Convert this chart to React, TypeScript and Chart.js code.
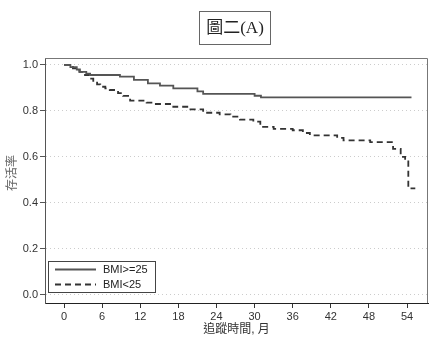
import React, { useEffect, useRef } from "react";
import { Chart, registerables } from "chart.js";

Chart.register(...registerables);

const TITLE = "圖二(A)";
const X_TITLE = "追蹤時間, 月";
const Y_TITLE = "存活率";
const X_TICKS = [0, 6, 12, 18, 24, 30, 36, 42, 48, 54];
const Y_TICKS = [0, 0.2, 0.4, 0.6, 0.8, 1.0];

const LABEL_A = "BMI>=25";
const TIME_A = [0, 1, 2, 2.5, 3.5, 4.1, 8.8, 11, 13.2, 15.1, 17.2, 21, 21.9, 30, 31, 54.7];
const SURV_A = [1.0, 0.99, 0.98, 0.97, 0.962, 0.956, 0.949, 0.935, 0.92, 0.91, 0.898, 0.885, 0.874, 0.866, 0.859, 0.859];

const LABEL_B = "BMI<25";
const TIME_B = [0, 1.4, 2.4, 3.3, 4.0, 4.6, 5.2, 5.7, 6.5, 7.2, 8.5, 9.3, 10.4, 13, 14, 17.2, 19.9, 21.9, 24.5, 26.2, 27.7, 29.8, 30.9, 33, 36, 37.6, 38.7, 43, 44, 48.2, 51.8, 53, 53.7, 54.2, 55.3];
const SURV_B = [1.0, 0.985, 0.97, 0.956, 0.94, 0.927, 0.915, 0.905, 0.898, 0.891, 0.877, 0.865, 0.845, 0.836, 0.83, 0.818, 0.807, 0.792, 0.785, 0.775, 0.762, 0.753, 0.731, 0.722, 0.716, 0.704, 0.694, 0.683, 0.672, 0.664, 0.635, 0.6, 0.58, 0.463, 0.463];

const SANS = '"Liberation Sans", Arial, sans-serif';

const decor = {
  id: "decor",
  afterDraw(chart: any) {
    const ctx = chart.ctx;
    const a = chart.chartArea;
    ctx.save();
    // frame top/right
    ctx.strokeStyle = "#777";
    ctx.lineWidth = 1;
    ctx.beginPath();
    ctx.moveTo(a.left, a.top + 0.5);
    ctx.lineTo(a.right - 0.5, a.top + 0.5);
    ctx.lineTo(a.right - 0.5, a.bottom);
    ctx.stroke();

    // title box
    ctx.strokeStyle = "#666";
    ctx.strokeRect(199.5, 11.5, 71, 33);
    ctx.fillStyle = "#222";
    ctx.font = '17px "Liberation Serif", "Noto Sans CJK TC", serif';
    ctx.textAlign = "center";
    ctx.textBaseline = "middle";
    ctx.fillText(TITLE, 235, 29);

    // axis titles
    ctx.fillStyle = "#333";
    ctx.font = '12px ' + SANS + ', "Noto Sans CJK TC"';
    ctx.fillText(X_TITLE, (a.left + a.right) / 2, 330);
    ctx.save();
    ctx.translate(11, 173);
    ctx.rotate(-Math.PI / 2);
    ctx.fillStyle = "#666";
    ctx.font = '12px "Noto Sans CJK TC", sans-serif';
    ctx.fillText(Y_TITLE, 0, 0);
    ctx.restore();

    // legend
    const bx = 48.5, by = 261.5, bw = 107, bh = 31;
    ctx.fillStyle = "#fff";
    ctx.fillRect(bx, by, bw, bh);
    ctx.strokeStyle = "#444";
    ctx.strokeRect(bx, by, bw, bh);
    const ds = chart.data.datasets;
    const rows = [269.5, 284.5];
    ds.forEach((d: any, i: number) => {
      ctx.beginPath();
      ctx.strokeStyle = d.borderColor;
      ctx.lineWidth = d.borderWidth;
      ctx.setLineDash(d.borderDash || []);
      ctx.moveTo(55, rows[i]);
      ctx.lineTo(96, rows[i]);
      ctx.stroke();
      ctx.setLineDash([]);
      ctx.fillStyle = "#222";
      ctx.font = '11px ' + SANS;
      ctx.textAlign = "left";
      ctx.fillText(d.label, 103, rows[i] + 0.5);
    });
    ctx.restore();
  },
};

export default function App() {
  const ref = useRef<HTMLCanvasElement>(null);
  useEffect(() => {
    if (!ref.current) return;
    const chart = new Chart(ref.current, {
      type: "line",
      data: {
        datasets: [
          {
            label: LABEL_A,
            data: TIME_A.map((t, i) => ({ x: t, y: SURV_A[i] })),
            stepped: true,
            borderColor: "#555",
            borderWidth: 1.8,
            pointRadius: 0,
            fill: false,
          },
          {
            label: LABEL_B,
            data: TIME_B.map((t, i) => ({ x: t, y: SURV_B[i] })),
            stepped: true,
            borderColor: "#333",
            borderWidth: 1.8,
            borderDash: [6, 4],
            pointRadius: 0,
            fill: false,
          },
        ],
      },
      options: {
        animation: false,
        responsive: false,
        devicePixelRatio: 1,
        layout: { padding: { top: 58, right: 20, left: 0, bottom: 0 } },
        plugins: { legend: { display: false }, tooltip: { enabled: false } },
        scales: {
          x: {
            type: "linear",
            min: -3,
            max: 57.3,
            afterBuildTicks: (s: any) => {
              s.ticks = X_TICKS.map((v) => ({ value: v }));
            },
            afterFit: (s: any) => {
              s.height = 49;
            },
            ticks: {
              autoSkip: false,
              maxRotation: 0,
              padding: 2,
              color: "#333",
              font: { size: 11, family: SANS },
              callback: (v: any) => String(v),
            },
            grid: { drawOnChartArea: false, tickLength: 5, tickColor: "#333" },
            border: { color: "#222", width: 1 },
          },
          y: {
            type: "linear",
            min: -0.035,
            max: 1.03,
            afterBuildTicks: (s: any) => {
              s.ticks = Y_TICKS.map((v) => ({ value: v }));
            },
            afterFit: (s: any) => {
              s.width = 45;
            },
            ticks: {
              autoSkip: false,
              padding: 2,
              color: "#333",
              font: { size: 11, family: SANS },
              callback: (v: any) => Number(v).toFixed(1),
            },
            grid: { color: "#ccc", lineWidth: 1, tickLength: 5, tickColor: "#555" },
            border: { color: "#555", width: 1, dash: [1, 3] },
          },
        },
      },
      plugins: [decor],
    });
    return () => chart.destroy();
  }, []);
  return (
    <canvas
      ref={ref}
      width={448}
      height={352}
      style={{ position: "fixed", left: 0, top: 0, width: 448, height: 352 }}
    />
  );
}
